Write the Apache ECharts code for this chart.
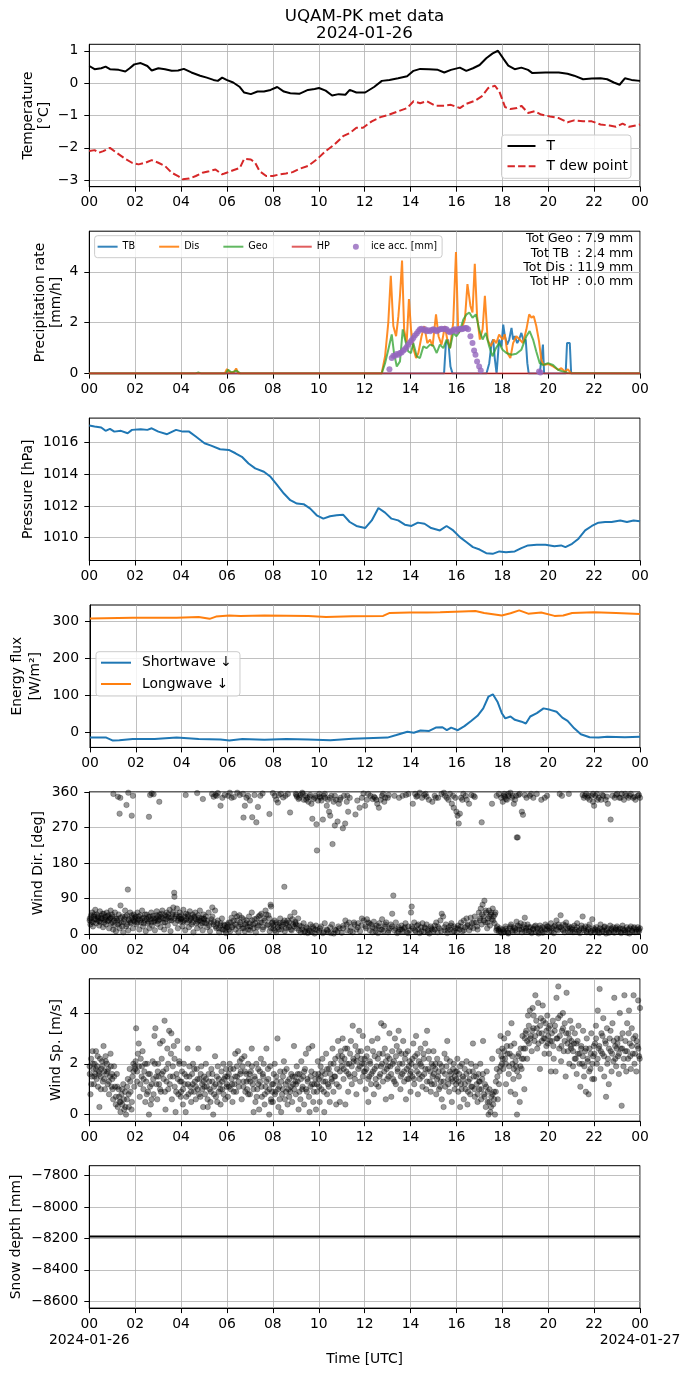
<!DOCTYPE html>
<html>
<head>
<meta charset="utf-8">
<script src="https://cdn.jsdelivr.net/npm/echarts@6/dist/echarts.min.js"></script>
<style>
  html, body { margin: 0; padding: 0; background: #fff; }
  #main { width: 690px; height: 1377px; }
</style>
</head>
<body>
<div id="main"></div>
<script>
// all x values are hours (UTC) of 2024-01-26
const titleLines = ['UQAM-PK met data', '2024-01-26']
const dayLabels = ['2024-01-26', '2024-01-27']

const tempAir = [[0,0.53],[0.23,0.43],[0.52,0.46],[0.71,0.51],[0.9,0.43],[1.28,0.41],[1.57,0.36],[1.76,0.46],[1.96,0.58],[2.24,0.62],[2.53,0.53],[2.72,0.39],[3.01,0.46],[3.3,0.43],[3.59,0.38],[3.87,0.39],[4.12,0.44],[4.45,0.33],[4.83,0.23],[5.12,0.17],[5.41,0.1],[5.6,0.07],[5.79,0.17],[5.98,0.1],[6.27,0.02],[6.56,-0.12],[6.75,-0.29],[7.04,-0.34],[7.33,-0.26],[7.61,-0.26],[7.9,-0.21],[8.19,-0.12],[8.48,-0.26],[8.76,-0.31],[9.15,-0.33],[9.53,-0.21],[9.82,-0.18],[10.01,-0.15],[10.3,-0.23],[10.58,-0.38],[10.87,-0.34],[11.16,-0.36],[11.35,-0.21],[11.64,-0.29],[12.02,-0.29],[12.41,-0.12],[12.75,0.07],[13.08,0.1],[13.46,0.15],[13.85,0.21],[14.13,0.38],[14.42,0.44],[14.8,0.43],[15.19,0.41],[15.47,0.33],[15.76,0.41],[16.15,0.48],[16.43,0.38],[16.72,0.46],[17.01,0.56],[17.3,0.77],[17.58,0.92],[17.81,1.0],[18.06,0.74],[18.26,0.54],[18.54,0.43],[18.83,0.48],[19.12,0.41],[19.31,0.31],[19.88,0.33],[20.46,0.33],[20.84,0.29],[21.13,0.23],[21.52,0.12],[21.9,0.14],[22.28,0.15],[22.57,0.12],[22.86,0.02],[23.11,-0.05],[23.34,0.15],[23.63,0.1],[24,0.07]]

const tempDew = [[0,-2.1],[0.23,-2.07],[0.42,-2.15],[0.61,-2.1],[0.9,-2.0],[1.19,-2.15],[1.57,-2.34],[1.86,-2.46],[2.15,-2.51],[2.44,-2.46],[2.72,-2.38],[3.01,-2.46],[3.3,-2.56],[3.59,-2.77],[3.87,-2.87],[4.07,-2.97],[4.35,-2.95],[4.64,-2.87],[4.93,-2.77],[5.22,-2.72],[5.5,-2.67],[5.79,-2.82],[5.98,-2.77],[6.27,-2.69],[6.56,-2.62],[6.75,-2.34],[7.04,-2.36],[7.23,-2.46],[7.42,-2.72],[7.71,-2.87],[8.0,-2.87],[8.28,-2.82],[8.57,-2.79],[8.86,-2.75],[9.15,-2.65],[9.53,-2.56],[9.91,-2.36],[10.3,-2.1],[10.68,-1.9],[11.06,-1.64],[11.35,-1.54],[11.64,-1.38],[11.93,-1.38],[12.31,-1.18],[12.69,-1.05],[13.08,-0.97],[13.46,-0.87],[13.85,-0.77],[14.13,-0.56],[14.42,-0.62],[14.71,-0.56],[15.09,-0.7],[15.47,-0.7],[15.76,-0.67],[16.15,-0.77],[16.43,-0.64],[16.82,-0.54],[17.1,-0.41],[17.39,-0.15],[17.68,-0.08],[17.87,-0.26],[18.12,-0.74],[18.35,-0.8],[18.64,-0.77],[18.83,-0.7],[19.12,-0.92],[19.41,-0.87],[19.69,-0.97],[20.08,-1.03],[20.46,-1.08],[20.84,-1.21],[21.13,-1.15],[21.52,-1.18],[21.9,-1.18],[22.28,-1.28],[22.67,-1.31],[22.95,-1.35],[23.24,-1.25],[23.53,-1.35],[24,-1.28]]

const precipTB = [[0,0],[15.46,0],[15.54,1.2],[15.64,1.34],[15.74,0.28],[15.83,0],[17.31,0],[17.43,0.41],[17.53,1.2],[17.6,1.34],[17.67,0.61],[17.75,0],[17.86,1.34],[17.96,1.07],[18.04,1.93],[18.11,1.47],[18.21,1.14],[18.3,1.34],[18.4,1.8],[18.47,1.34],[18.54,1.47],[18.65,1.2],[18.73,1.34],[18.83,1.6],[18.93,1.27],[19.02,1.34],[19.09,0.41],[19.15,0],[19.63,0],[19.7,0.54],[19.77,1.14],[19.82,0],[20.76,0],[20.82,1.2],[20.94,1.2],[21.0,0],[24,0]]

const precipDis = [[0,0],[5.9,0],[6.0,0.18],[6.1,0.05],[6.3,0.05],[6.4,0.2],[6.5,0],[12.74,0],[12.89,0.68],[13.03,2.0],[13.14,3.85],[13.25,1.87],[13.37,1.47],[13.47,2.26],[13.54,3.06],[13.63,4.45],[13.72,1.74],[13.83,1.2],[13.93,2.93],[14.02,1.74],[14.12,1.0],[14.24,0.61],[14.34,0.81],[14.48,1.47],[14.6,1.87],[14.73,1.2],[14.85,1.34],[14.96,1.07],[15.11,2.33],[15.22,1.47],[15.35,1.14],[15.5,1.87],[15.6,1.34],[15.72,1.0],[15.86,2.0],[15.98,4.78],[16.08,1.6],[16.22,1.74],[16.37,2.13],[16.48,3.52],[16.61,2.66],[16.7,2.4],[16.8,4.32],[16.9,2.26],[17.02,1.34],[17.14,1.74],[17.24,3.06],[17.36,1.34],[17.49,1.07],[17.63,1.34],[17.74,1.2],[17.86,1.54],[18.01,1.34],[18.11,1.54],[18.22,0.81],[18.35,0.61],[18.47,1.2],[18.61,1.47],[18.76,1.34],[18.9,1.2],[19.05,1.74],[19.17,2.33],[19.27,2.2],[19.37,2.26],[19.48,1.87],[19.6,1.27],[19.7,0.54],[19.8,0.34],[19.99,0.38],[20.21,0.28],[20.43,0.15],[20.57,0.21],[20.72,0.08],[20.86,0.17],[21.0,0.01],[24,0]]

const precipGeo = [[0,0],[4.6,0],[4.75,0.04],[4.9,0],[5.95,0],[6.05,0.15],[6.2,0.04],[6.4,0.12],[6.6,0],[12.74,0],[12.89,0.41],[13.03,0.94],[13.18,1.54],[13.28,0.81],[13.4,0.28],[13.54,0.48],[13.66,1.74],[13.76,1.34],[13.9,0.87],[14.02,0.81],[14.12,1.2],[14.27,0.68],[14.41,0.61],[14.56,1.07],[14.7,1.0],[14.85,1.14],[14.99,1.1],[15.14,0.81],[15.28,1.14],[15.43,1.0],[15.57,1.34],[15.72,1.0],[15.86,1.6],[16.0,1.47],[16.15,1.67],[16.3,2.13],[16.44,2.33],[16.56,2.4],[16.7,2.2],[16.85,2.33],[16.99,1.74],[17.14,1.34],[17.28,1.6],[17.43,1.07],[17.57,0.68],[17.72,1.0],[17.86,1.2],[18.01,0.94],[18.18,0.81],[18.4,0.74],[18.61,0.78],[18.83,0.94],[19.05,1.47],[19.19,1.67],[19.34,1.34],[19.48,0.87],[19.63,0.41],[19.77,0.34],[19.99,0.41],[20.21,0.34],[20.43,0.15],[20.64,0.08],[20.93,0.01],[24,0]]

const precipHP = [[0,0],[24,0]]

const iceAcc = [[13.08,0.17],[13.18,0.61],[13.25,0.7],[13.32,0.7],[13.4,0.77],[13.47,0.74],[13.54,0.81],[13.61,0.83],[13.69,0.91],[13.76,0.97],[13.83,1.05],[13.9,1.14],[13.98,1.23],[14.05,1.31],[14.12,1.4],[14.19,1.5],[14.27,1.58],[14.34,1.67],[14.41,1.74],[14.48,1.76],[14.56,1.71],[14.63,1.74],[14.7,1.67],[14.77,1.7],[14.85,1.67],[14.92,1.71],[14.99,1.74],[15.06,1.71],[15.14,1.67],[15.21,1.71],[15.28,1.74],[15.35,1.76],[15.43,1.74],[15.5,1.76],[15.57,1.74],[15.64,1.67],[15.72,1.63],[15.79,1.67],[15.86,1.71],[15.93,1.74],[16.0,1.67],[16.08,1.74],[16.15,1.76],[16.22,1.74],[16.3,1.76],[16.37,1.79],[16.44,1.79],[16.51,1.74],[16.61,1.47],[16.7,1.2],[16.77,0.91],[16.83,0.74],[16.9,0.48],[16.99,0.28],[17.06,0.12],[19.6,0.08],[19.66,0.04]]

const precipTotals = [['Geo', '7.9'], ['TB', '2.4'], ['Dis', '11.9'], ['HP', '0.0']]

const pressure = [[0,1017.05],[0.23,1016.99],[0.52,1016.93],[0.71,1016.72],[0.9,1016.84],[1.09,1016.67],[1.38,1016.72],[1.67,1016.57],[1.86,1016.78],[2.24,1016.82],[2.53,1016.78],[2.72,1016.88],[3.01,1016.67],[3.39,1016.51],[3.78,1016.78],[4.07,1016.67],[4.35,1016.67],[4.64,1016.36],[5.02,1015.94],[5.31,1015.79],[5.7,1015.56],[6.08,1015.52],[6.37,1015.31],[6.65,1015.09],[6.94,1014.67],[7.23,1014.36],[7.61,1014.15],[7.9,1013.83],[8.19,1013.31],[8.48,1012.78],[8.76,1012.36],[9.05,1012.15],[9.34,1012.11],[9.63,1011.83],[9.91,1011.41],[10.2,1011.2],[10.49,1011.35],[10.78,1011.41],[11.06,1011.45],[11.35,1010.99],[11.64,1010.74],[12.02,1010.61],[12.31,1011.09],[12.6,1011.87],[12.89,1011.58],[13.17,1011.2],[13.46,1011.09],[13.75,1010.82],[14.04,1010.74],[14.32,1010.95],[14.61,1010.88],[14.9,1010.61],[15.28,1010.46],[15.57,1010.74],[15.86,1010.46],[16.15,1010.04],[16.43,1009.73],[16.72,1009.41],[17.01,1009.26],[17.3,1009.03],[17.58,1008.99],[17.87,1009.14],[18.16,1009.09],[18.54,1009.14],[18.83,1009.35],[19.12,1009.52],[19.5,1009.56],[19.88,1009.56],[20.27,1009.47],[20.56,1009.52],[20.75,1009.41],[21.04,1009.62],[21.32,1009.94],[21.61,1010.46],[21.9,1010.74],[22.19,1010.95],[22.48,1010.99],[22.76,1010.99],[23.14,1011.09],[23.43,1010.99],[23.72,1011.09],[24,1011.03]]

const shortwave = [[0,-15],[0.71,-15],[1.0,-23],[1.28,-22],[1.86,-19],[2.82,-19],[3.78,-15],[4.74,-19],[5.7,-20],[6.08,-23],[6.65,-19],[7.61,-21],[8.57,-19],[9.53,-20],[10.49,-22],[11.45,-18],[12.98,-15],[13.37,-8],[13.85,1],[14.13,-2],[14.42,4],[14.8,3],[15.09,12],[15.38,13],[15.57,5],[15.76,12],[16.05,5],[16.34,16],[16.63,30],[16.91,44],[17.16,64],[17.39,96],[17.58,102],[17.78,82],[17.97,51],[18.12,37],[18.35,42],[18.54,33],[18.83,28],[19.02,23],[19.21,42],[19.5,51],[19.79,64],[20.08,60],[20.36,55],[20.61,39],[20.84,30],[21.13,10],[21.42,-6],[21.8,-14],[22.19,-15],[22.57,-13],[23.34,-14],[24,-13]]

const longwave = [[0,307],[1.86,309],[3.78,309],[4.74,311],[5.22,306],[5.5,312],[6.08,315],[6.56,314],[7.61,315],[9.53,314],[10.3,311],[11.45,313],[12.79,314],[13.08,322],[13.94,323],[14.71,323],[15.28,324],[16.24,326],[16.82,327],[17.2,322],[17.97,315],[18.35,321],[18.73,329],[19.12,320],[19.69,323],[20.27,314],[20.65,315],[21.04,322],[21.99,324],[22.95,322],[24,319]]

const windDir = [
[0.02,40],[0.05,25],[0.08,48],[0.1,32],[0.13,55],[0.16,20],[0.2,45],[0.23,38],[0.26,62],[0.3,28],[0.33,50],[0.36,35],[0.4,42],[0.43,22],[0.46,58],[0.5,30],[0.53,47],[0.56,40],[0.6,18],[0.63,52],[0.66,36],[0.7,44],[0.73,25],[0.76,55],[0.8,33],[0.83,48],[0.86,15],[0.9,40],[0.93,60],[0.96,28],
[1.0,45],[1.04,12],[1.08,35],[1.12,55],[1.16,8],[1.2,40],[1.24,25],[1.28,50],[1.32,15],[1.36,73],[1.4,30],[1.44,45],[1.48,5],[1.52,38],[1.56,60],[1.6,20],[1.64,48],[1.68,113],[1.7,10],[1.74,35],[1.78,55],[1.82,28],[1.86,42],[1.9,15],[1.94,50],[1.98,32],
[2.02,45],[2.06,25],[2.1,55],[2.14,38],[2.18,12],[2.22,48],[2.26,30],[2.3,60],[2.34,20],[2.38,42],[2.42,35],[2.46,8],[2.5,50],[2.54,28],[2.58,44],[2.62,15],[2.66,38],[2.7,55],[2.74,22],[2.78,47],[2.82,32],[2.86,10],[2.9,40],[2.94,58],[2.98,26],
[3.02,36],[3.06,50],[3.1,18],[3.14,44],[3.18,60],[3.22,30],[3.26,12],[3.3,48],[3.34,38],[3.38,55],[3.42,22],[3.46,42],[3.5,62],[3.54,8],[3.58,35],[3.62,50],[3.66,68],[3.7,105],[3.71,95],[3.74,28],[3.78,45],[3.82,65],[3.86,15],[3.9,40],[3.94,55],[3.98,32],
[4.02,48],[4.06,20],[4.1,62],[4.14,35],[4.18,10],[4.22,52],[4.26,30],[4.3,45],[4.34,18],[4.38,58],[4.42,38],[4.46,25],[4.5,50],[4.54,5],[4.58,42],[4.62,55],[4.66,28],[4.7,15],[4.74,48],[4.78,35],[4.82,60],[4.86,22],[4.9,40],[4.94,10],[4.98,50],
[5.02,30],[5.08,45],[5.14,18],[5.2,55],[5.26,8],[5.32,38],[5.36,68],[5.42,25],[5.48,60],[5.54,15],[5.6,35],[5.66,5],[5.72,28],[5.78,40],[5.84,12],[5.9,22],[5.96,3],
[6.02,18],[6.08,30],[6.14,8],[6.2,42],[6.26,22],[6.32,52],[6.38,12],[6.44,35],[6.5,5],[6.54,48],[6.6,25],[6.66,15],[6.72,38],[6.78,8],[6.84,28],[6.9,20],[6.96,45],
[7.02,10],[7.08,55],[7.14,25],[7.2,38],[7.26,5],[7.32,18],[7.38,45],[7.44,30],[7.5,52],[7.56,12],[7.62,40],[7.68,60],[7.74,22],[7.8,48],[7.86,8],[7.9,75],[7.92,70],[7.96,28],
[8.02,15],[8.08,35],[8.14,5],[8.2,25],[8.26,12],[8.32,40],[8.38,20],[8.44,30],[8.5,120],[8.52,8],[8.58,28],[8.64,35],[8.7,18],[8.76,45],[8.82,10],[8.88,25],[8.94,55],[8.98,32],
[9.04,15],[9.1,40],[9.16,22],[9.22,5],[9.28,12],[9.34,28],[9.4,8],[9.46,18],[9.52,3],[9.58,10],[9.64,25],[9.7,6],[9.76,15],[9.82,2],[9.88,22],[9.94,10],
[10.02,8],[10.1,20],[10.18,3],[10.26,28],[10.34,12],[10.42,5],[10.5,18],[10.58,25],[10.66,2],[10.74,10],[10.82,6],[10.9,15],
[11.0,4],[11.08,22],[11.16,35],[11.24,10],[11.32,30],[11.4,18],[11.48,5],[11.56,25],[11.64,12],[11.72,28],[11.8,8],[11.88,40],[11.96,35],
[12.04,20],[12.1,38],[12.16,30],[12.22,10],[12.28,25],[12.34,5],[12.4,32],[12.46,15],[12.52,22],[12.58,3],[12.64,28],[12.7,12],[12.76,38],[12.82,8],[12.88,20],[12.94,30],
[13.02,5],[13.08,15],[13.14,25],[13.2,52],[13.25,98],[13.3,10],[13.36,30],[13.42,3],[13.48,18],[13.54,12],[13.6,22],[13.66,8],[13.72,15],[13.78,28],[13.84,5],[13.9,20],[13.96,10],
[14.02,55],[14.05,70],[14.1,15],[14.16,30],[14.22,8],[14.28,22],[14.34,12],[14.4,3],[14.46,18],[14.52,28],[14.58,6],[14.64,15],[14.7,25],[14.76,10],[14.82,2],[14.88,20],[14.94,12],
[15.0,8],[15.06,22],[15.12,30],[15.18,5],[15.24,15],[15.3,35],[15.36,52],[15.42,45],[15.48,10],[15.54,25],[15.6,3],[15.66,18],[15.72,12],[15.78,28],[15.84,6],[15.9,20],[15.96,15],
[16.02,5],[16.08,22],[16.14,12],[16.2,30],[16.26,8],[16.32,35],[16.38,18],[16.44,40],[16.5,25],[16.56,10],[16.62,42],[16.68,28],[16.74,15],[16.8,45],[16.86,30],[16.92,12],[16.98,55],
[17.02,35],[17.06,65],[17.1,25],[17.14,75],[17.18,45],[17.22,85],[17.26,30],[17.3,55],[17.34,15],[17.38,40],[17.42,60],[17.46,22],[17.5,50],[17.54,38],[17.58,65],[17.62,45],[17.66,28],[17.7,55],[17.74,10],[17.78,20],[17.84,8],[17.9,15],[17.96,3],
[18.02,12],[18.08,5],[18.14,20],[18.2,8],[18.26,2],[18.32,15],[18.38,25],[18.44,6],[18.5,18],[18.56,10],[18.62,32],[18.68,22],[18.74,12],[18.8,28],[18.86,5],[18.92,18],[18.98,42],[18.99,8],
[19.04,15],[19.1,25],[19.16,8],[19.22,18],[19.28,3],[19.34,12],[19.4,20],[19.46,6],[19.52,15],[19.58,2],[19.64,22],[19.7,10],[19.76,18],[19.82,5],[19.88,25],[19.94,12],
[20.0,20],[20.06,8],[20.12,28],[20.18,15],[20.24,3],[20.3,22],[20.36,35],[20.42,10],[20.48,18],[20.54,48],[20.6,12],[20.66,25],[20.72,5],[20.78,30],[20.84,15],[20.9,20],[20.96,8],
[21.02,18],[21.08,5],[21.14,22],[21.2,12],[21.26,28],[21.32,8],[21.38,3],[21.44,15],[21.5,45],[21.56,10],[21.62,20],[21.68,5],[21.74,12],[21.8,25],[21.86,8],[21.92,38],[21.98,15],
[22.04,5],[22.1,18],[22.16,10],[22.22,3],[22.28,25],[22.34,12],[22.4,8],[22.46,20],[22.52,2],[22.58,15],[22.64,6],[22.7,22],[22.76,10],[22.82,18],[22.88,4],[22.94,12],
[23.0,20],[23.06,8],[23.12,15],[23.18,3],[23.24,22],[23.3,10],[23.36,5],[23.42,18],[23.48,12],[23.54,2],[23.6,20],[23.66,8],[23.72,15],[23.78,5],[23.84,12],[23.9,18],[23.96,8],[24.0,15],
[0.015,35],[0.085,42],[0.155,30],[0.225,50],[0.295,38],[0.365,45],[0.435,33],[0.505,40],[0.575,52],[0.645,30],[0.715,38],[0.785,46],[0.855,35],[0.925,42],[0.985,50],
[1.015,30],[1.085,22],[1.155,40],[1.225,35],[1.295,28],[1.365,42],[1.435,20],[1.505,32],[1.575,45],[1.645,25],[1.715,38],[1.785,30],[1.855,48],[1.925,35],[1.985,42],
[2.015,38],[2.085,30],[2.155,45],[2.225,35],[2.295,40],[2.365,28],[2.435,50],[2.505,38],[2.575,32],[2.645,45],[2.715,30],[2.785,40],[2.855,35],[2.925,48],[2.985,33],
[3.015,45],[3.085,38],[3.155,52],[3.225,40],[3.295,30],[3.365,45],[3.435,50],[3.505,35],[3.575,42],[3.645,55],[3.715,40],[3.785,50],[3.855,35],[3.925,45],[3.985,38],
[4.015,40],[4.085,32],[4.155,45],[4.225,38],[4.295,50],[4.365,35],[4.435,42],[4.505,30],[4.575,45],[4.645,38],[4.715,32],[4.785,42],[4.855,35],[4.925,28],[4.985,40],
[5.015,38],[5.085,28],[5.155,35],[5.225,22],[5.295,30],[5.365,45],[5.435,32],[5.505,20],[5.575,28],[5.645,15],[5.715,22],[5.785,12],[5.855,25],[5.925,10],[5.985,18],
[6.015,25],[6.085,12],[6.155,30],[6.225,18],[6.295,35],[6.365,25],[6.435,45],[6.505,20],[6.575,30],[6.645,42],[6.715,15],[6.785,25],[6.855,35],[6.925,12],[6.985,28],
[7.015,20],[7.085,35],[7.155,15],[7.225,28],[7.295,40],[7.365,22],[7.435,48],[7.505,30],[7.575,18],[7.645,35],[7.715,50],[7.785,25],[7.855,40],[7.925,15],[7.985,30],
[8.015,22],[8.085,10],[8.155,30],[8.225,18],[8.295,28],[8.365,12],[8.435,25],[8.505,35],[8.575,15],[8.645,22],[8.715,30],[8.785,12],[8.855,38],[8.925,20],[8.985,28],
[9.015,25],[9.135,10],[9.255,20],[9.375,5],[9.495,15],[9.615,8],[9.735,20],[9.855,12],[10.055,15],[10.215,6],[10.375,10],[10.535,3],[10.695,12],[10.855,20],
[11.055,15],[11.215,25],[11.375,8],[11.535,30],[11.695,18],[11.855,22],[12.055,15],[12.195,28],[12.335,18],[12.475,8],[12.615,20],[12.755,12],[12.895,25],
[13.055,10],[13.195,20],[13.335,15],[13.475,6],[13.615,12],[13.755,18],[13.895,3],[14.055,20],[14.195,10],[14.335,25],[14.475,8],[14.615,18],[14.755,5],[14.895,15],
[15.055,12],[15.195,20],[15.335,8],[15.475,18],[15.615,10],[15.755,22],[15.895,8],[16.055,15],[16.195,20],[16.335,10],[16.475,22],[16.615,18],[16.755,30],[16.895,20],
[17.035,40],[17.115,50],[17.195,35],[17.275,60],[17.355,30],[17.435,45],[17.515,55],[17.595,35],[17.675,50],[17.755,15],[17.835,12],[17.915,8],
[18.05,8],[18.15,14],[18.25,4],[18.35,20],[18.45,10],[18.55,15],[18.65,6],[18.75,20],[18.85,12],[18.95,25],
[19.05,10],[19.15,18],[19.25,6],[19.35,14],[19.45,22],[19.55,8],[19.65,15],[19.75,4],[19.85,12],[19.95,20],
[20.05,15],[20.15,8],[20.25,20],[20.35,12],[20.45,25],[20.55,18],[20.65,10],[20.75,22],[20.85,8],[20.95,15],
[21.05,12],[21.15,6],[21.25,18],[21.35,10],[21.45,22],[21.55,15],[21.65,8],[21.75,18],[21.85,4],[21.95,10],
[22.05,12],[22.15,6],[22.25,15],[22.35,8],[22.45,18],[22.55,10],[22.65,4],[22.75,14],[22.85,8],[22.95,16],
[23.05,12],[23.15,6],[23.25,14],[23.35,10],[23.45,4],[23.55,15],[23.65,10],[23.75,18],[23.85,6],[23.95,12],
[1.05,355],[1.25,348],[1.35,345],[1.32,305],[1.62,327],[1.7,358],[1.85,300],[1.9,350],[2.6,297],[2.65,352],[2.72,356],[2.8,354],[3.05,335],[4.2,352],[4.7,357],[4.95,342],[5.35,355],[5.42,348],[5.5,352],[5.6,357],[5.72,325],[5.8,345],[5.9,352],[6.05,350],[6.12,358],[6.2,345],[6.3,347],[6.45,358],[6.7,355],[6.72,295],[6.78,325],[6.85,345],[6.92,350],[7.0,338],[7.1,296],[7.2,352],[7.28,283],[7.35,322],[7.55,356],[7.85,304],
[8.0,357],[8.08,350],[8.15,340],[8.22,333],[8.35,355],[8.45,346],[8.55,350],[8.75,308],[9.0,355],[9.05,348],[9.12,342],[9.2,352],[9.28,358],[9.35,340],[9.42,350],[9.5,345],[9.55,335],[9.6,348],[9.68,330],[9.72,292],[9.78,342],[9.85,350],[9.9,278],[9.92,212],[9.97,338],
[10.02,355],[10.08,345],[10.12,338],[10.18,290],[10.22,350],[10.28,345],[10.35,325],[10.4,340],[10.45,310],[10.5,300],[10.55,350],[10.6,228],[10.65,335],[10.7,275],[10.75,340],[10.82,285],[10.88,330],[10.95,345],[11.05,268],[11.1,350],[11.15,280],[11.22,335],[11.28,310],[11.35,345],[11.6,303],[11.68,338],[11.78,320],[11.88,345],[11.95,356],
[12.02,325],[12.1,340],[12.25,350],[12.35,342],[12.45,345],[12.55,330],[12.62,320],[12.7,340],[12.8,355],[12.9,345],[13.05,352],[13.3,350],[13.5,345],[13.65,350],[13.8,352],[14.1,330],[14.2,355],[14.3,350],[14.4,358],[14.5,345],[14.6,352],[14.7,348],[14.8,340],[14.95,335],[15.05,350],[15.2,345],[15.35,355],[15.5,350],[15.58,345],[15.65,340],[15.72,355],[15.8,330],[15.88,320],[15.95,345],
[16.0,310],[16.05,300],[16.1,280],[16.15,305],[16.2,345],[16.3,355],[16.45,340],[16.55,330],[16.65,352],[16.75,350],[16.8,347],[17.1,283],[17.55,330],[17.75,350],[17.85,355],[17.95,345],[18.02,335],[18.08,355],[18.12,348],[18.2,340],[18.28,350],[18.35,358],[18.42,345],[18.5,330],[18.6,350],[18.63,245],[18.67,245],[18.75,355],[18.85,310],[18.9,302],[18.98,352],
[19.2,350],[19.35,345],[19.5,355],[19.7,340],[19.85,345],[19.95,350],[20.5,355],[20.6,350],[20.9,355],[21.5,352],[21.6,350],[21.65,355],[21.72,345],[21.8,340],[21.88,350],[21.95,335],[22.0,325],[22.05,350],[22.12,355],[22.2,345],[22.3,340],[22.4,350],[22.5,340],[22.6,330],[22.72,290],[22.8,350],[22.9,345],[23.0,355],[23.1,345],[23.2,355],[23.3,340],[23.4,350],[23.5,345],[23.6,355],[23.7,345],[23.8,340],[23.9,350],[24.0,345],
[9.025,352],[9.155,345],[9.305,355],[9.455,340],[9.625,352],[9.835,345],[10.045,348],[10.265,355],[10.485,345],[10.705,350],[10.925,340],[11.245,350],[12.155,355],[12.405,348],[12.505,340],[12.755,350],[12.855,335],[13.005,345],[13.905,355],[14.255,348],[14.655,355],[15.105,345],[15.455,358],[15.855,350],[16.255,340],[16.405,350],
[18.055,350],[18.155,342],[18.255,355],[18.455,350],[18.555,340],[18.705,352],[19.055,345],[19.255,355],[21.555,345],[21.755,350],[21.955,355],[22.155,340],[22.355,352],[22.555,348],[22.955,352],[23.155,345],[23.355,355],[23.555,350],[23.755,348],[23.955,352],[5.555,350],[6.555,352],[7.455,350],[8.255,352],[8.655,355]
]

const windSpeed = [
[0.02,1.6],[0.05,0.8],[0.08,2.2],[0.11,1.5],[0.14,2.5],[0.17,1.8],[0.2,1.2],[0.23,2.0],[0.26,1.6],[0.29,2.5],[0.32,1.4],[0.35,1.9],[0.38,1.1],[0.41,1.7],[0.44,0.3],[0.47,2.2],[0.5,1.5],[0.53,1.8],[0.56,2.1],[0.59,1.3],[0.62,2.7],[0.65,1.7],[0.68,1.0],[0.71,2.3],[0.74,1.6],[0.77,2.0],[0.8,1.2],[0.83,1.8],[0.86,0.8],[0.9,1.5],[0.94,1.9],[0.97,1.1],
[1.0,1.4],[1.04,0.6],[1.08,1.9],[1.12,1.1],[1.16,0.7],[1.2,1.6],[1.24,0.3],[1.28,1.0],[1.32,0.5],[1.36,0.1],[1.4,0.8],[1.44,0.4],[1.48,1.2],[1.52,0.2],[1.56,0.9],[1.6,0.0],[1.64,0.6],[1.68,1.4],[1.72,0.3],[1.76,1.8],[1.8,0.9],[1.84,0.2],[1.88,1.5],[1.92,2.0],[1.96,1.1],
[2.0,1.8],[2.04,3.4],[2.08,1.3],[2.12,2.4],[2.16,1.9],[2.2,0.7],[2.24,2.2],[2.28,1.5],[2.32,2.5],[2.36,1.0],[2.4,1.7],[2.44,0.5],[2.48,1.3],[2.52,2.0],[2.56,0.9],[2.6,0.0],[2.64,1.6],[2.68,0.4],[2.72,1.2],[2.76,2.1],[2.8,0.8],[2.84,3.1],[2.88,3.4],[2.92,1.5],[2.96,0.6],
[3.0,2.0],[3.04,1.2],[3.08,2.8],[3.12,0.9],[3.16,1.6],[3.2,2.9],[3.24,1.4],[3.28,3.7],[3.32,0.2],[3.36,1.8],[3.4,2.6],[3.44,1.0],[3.48,3.3],[3.52,1.5],[3.56,2.4],[3.6,0.6],[3.64,1.9],[3.68,2.7],[3.72,1.1],[3.76,0.1],[3.8,1.6],[3.84,2.9],[3.88,0.8],[3.92,2.0],[3.96,1.3],
[4.0,0.9],[4.04,1.7],[4.08,0.4],[4.12,2.0],[4.16,1.2],[4.2,0.1],[4.24,1.5],[4.28,2.6],[4.32,0.8],[4.36,1.9],[4.4,1.1],[4.44,0.5],[4.48,1.6],[4.52,2.0],[4.56,0.9],[4.6,1.3],[4.64,0.6],[4.68,1.8],[4.72,1.0],[4.76,2.6],[4.8,1.4],[4.84,0.7],[4.88,1.9],[4.92,1.2],[4.96,0.3],
[5.0,1.5],[5.04,0.8],[5.08,2.0],[5.12,1.1],[5.16,0.3],[5.2,1.6],[5.24,1.0],[5.28,0.5],[5.32,1.8],[5.36,1.3],[5.4,0.0],[5.44,1.1],[5.48,2.3],[5.52,0.7],[5.56,1.5],[5.6,1.9],[5.64,0.9],[5.68,1.2],[5.72,0.4],[5.76,1.7],[5.8,1.0],[5.84,2.0],[5.88,1.4],[5.92,0.6],[5.96,1.8],
[6.0,1.2],[6.04,0.7],[6.08,1.6],[6.12,2.0],[6.16,1.0],[6.2,1.4],[6.24,0.5],[6.28,1.8],[6.32,1.2],[6.36,2.4],[6.4,0.9],[6.44,1.5],[6.48,2.5],[6.52,1.1],[6.56,2.1],[6.6,1.7],[6.64,0.6],[6.68,1.9],[6.72,1.3],[6.76,2.3],[6.8,0.9],[6.84,1.6],[6.88,1.0],[6.92,2.0],[6.96,1.4],
[7.0,0.8],[7.04,1.7],[7.08,2.6],[7.12,1.2],[7.16,0.1],[7.2,1.5],[7.24,0.5],[7.28,2.0],[7.32,1.0],[7.36,1.8],[7.4,0.2],[7.44,1.3],[7.48,2.2],[7.52,0.7],[7.56,1.6],[7.6,2.0],[7.64,0.4],[7.68,1.1],[7.72,2.6],[7.76,0.9],[7.8,1.4],[7.84,0.0],[7.88,1.9],[7.92,0.6],[7.96,1.2],
[8.0,0.5],[8.04,1.6],[8.08,2.0],[8.12,0.9],[8.16,1.3],[8.2,3.0],[8.24,0.3],[8.28,1.1],[8.32,1.7],[8.36,0.1],[8.4,0.8],[8.44,1.5],[8.48,2.1],[8.52,0.6],[8.56,1.2],[8.6,1.8],[8.64,0.4],[8.68,1.0],[8.72,1.4],[8.76,0.9],[8.8,1.6],[8.84,0.5],[8.88,1.2],[8.92,2.7],[8.96,1.5],
[9.0,0.8],[9.04,1.9],[9.08,1.3],[9.12,0.2],[9.16,1.6],[9.2,0.6],[9.24,2.1],[9.28,1.0],[9.32,1.5],[9.36,0.4],[9.4,1.8],[9.44,2.4],[9.48,0.9],[9.52,1.3],[9.56,2.6],[9.6,0.1],[9.64,1.1],[9.68,1.7],[9.72,2.7],[9.76,0.5],[9.8,1.2],[9.84,1.6],[9.88,0.2],[9.92,0.9],[9.96,2.1],
[10.0,1.4],[10.04,0.5],[10.08,1.9],[10.12,1.0],[10.16,2.2],[10.2,1.3],[10.24,0.1],[10.28,1.6],[10.32,2.4],[10.36,0.8],[10.4,1.2],[10.44,1.8],[10.48,0.5],[10.52,2.0],[10.56,1.4],[10.6,2.6],[10.64,0.9],[10.68,1.5],[10.72,2.2],[10.76,0.4],[10.8,1.8],[10.84,2.9],[10.88,1.1],[10.92,0.5],[10.96,2.5],
[11.0,1.9],[11.04,3.0],[11.08,1.4],[11.12,2.2],[11.16,0.4],[11.2,1.7],[11.24,2.6],[11.28,0.9],[11.32,2.0],[11.36,1.5],[11.4,2.9],[11.44,1.2],[11.48,3.5],[11.52,2.1],[11.56,1.6],[11.6,2.7],[11.64,0.8],[11.68,2.3],[11.72,1.8],[11.76,3.3],[11.8,1.3],[11.84,2.5],[11.88,2.0],[11.92,3.1],[11.96,1.7],
[12.0,2.2],[12.04,1.0],[12.08,1.8],[12.12,2.6],[12.16,0.5],[12.2,1.5],[12.24,2.0],[12.28,1.2],[12.32,2.9],[12.36,1.7],[12.4,0.8],[12.44,2.3],[12.48,1.4],[12.52,1.9],[12.56,3.0],[12.6,1.1],[12.64,2.4],[12.68,1.6],[12.72,3.6],[12.76,2.0],[12.8,1.3],[12.84,3.5],[12.88,2.6],[12.92,0.6],[12.96,1.8],
[13.0,2.3],[13.04,1.5],[13.08,3.2],[13.12,1.9],[13.16,0.7],[13.2,2.5],[13.24,1.4],[13.28,2.1],[13.32,3.0],[13.36,1.2],[13.4,2.7],[13.44,1.7],[13.48,3.3],[13.52,2.0],[13.56,1.0],[13.6,2.4],[13.64,1.6],[13.68,2.9],[13.72,1.3],[13.76,2.2],[13.8,0.6],[13.84,1.8],[13.88,2.5],[13.92,1.4],[13.96,2.1],
[14.0,0.9],[14.04,2.0],[14.08,1.5],[14.12,2.8],[14.16,1.2],[14.2,2.3],[14.24,3.1],[14.28,1.7],[14.32,0.8],[14.36,2.1],[14.4,1.4],[14.44,2.6],[14.48,1.9],[14.52,1.1],[14.56,2.4],[14.6,1.6],[14.64,2.8],[14.68,1.0],[14.72,3.3],[14.76,1.8],[14.8,2.2],[14.84,1.3],[14.88,0.9],[14.92,2.0],[14.96,1.5],
[15.0,2.5],[15.04,1.2],[15.08,1.8],[15.12,0.8],[15.16,2.2],[15.2,1.5],[15.24,1.0],[15.28,2.0],[15.32,1.3],[15.36,0.6],[15.4,1.7],[15.44,0.3],[15.48,2.4],[15.52,1.1],[15.56,1.9],[15.6,2.9],[15.64,1.4],[15.68,0.9],[15.72,2.1],[15.76,1.6],[15.8,0.5],[15.84,1.3],[15.88,2.0],[15.92,1.0],[15.96,1.7],
[16.0,1.4],[16.04,2.2],[16.08,0.9],[16.12,1.6],[16.16,0.3],[16.2,1.2],[16.24,2.0],[16.28,1.5],[16.32,0.6],[16.36,1.8],[16.4,1.0],[16.44,2.1],[16.48,0.4],[16.52,1.3],[16.56,1.7],[16.6,0.8],[16.64,2.0],[16.68,1.1],[16.72,2.8],[16.76,1.5],[16.8,0.7],[16.84,1.9],[16.88,1.2],[16.92,0.5],[16.96,1.6],
[17.0,1.0],[17.04,2.0],[17.08,0.6],[17.12,1.4],[17.16,2.9],[17.2,0.8],[17.24,1.2],[17.28,0.3],[17.32,1.7],[17.36,0.5],[17.4,0.0],[17.44,1.0],[17.48,0.1],[17.52,0.7],[17.56,2.2],[17.6,0.4],[17.64,0.9],[17.68,0.0],[17.72,1.3],[17.76,1.8],[17.8,0.6],[17.84,2.5],[17.88,1.7],[17.92,3.1],[17.96,2.3],
[18.0,2.6],[18.04,1.8],[18.08,3.0],[18.12,2.2],[18.16,1.2],[18.2,2.7],[18.24,3.2],[18.28,1.6],[18.32,2.4],[18.36,0.9],[18.4,3.6],[18.44,2.0],[18.48,1.4],[18.52,2.8],[18.56,0.8],[18.6,1.9],[18.64,0.0],[18.68,2.3],[18.72,1.5],[18.76,0.5],[18.8,2.6],[18.84,1.8],[18.88,3.1],[18.92,2.2],[18.96,1.0],
[19.0,2.6],[19.04,3.3],[19.08,2.2],[19.12,3.9],[19.16,2.8],[19.2,4.1],[19.24,3.1],[19.28,2.5],[19.32,4.2],[19.36,3.4],[19.4,2.9],[19.44,4.7],[19.48,3.7],[19.52,2.6],[19.56,4.4],[19.6,3.2],[19.64,1.8],[19.68,3.8],[19.72,2.9],[19.76,4.3],[19.8,3.0],[19.84,2.4],[19.88,3.6],[19.92,2.7],[19.96,3.9],
[20.0,3.1],[20.04,2.4],[20.08,3.5],[20.12,1.7],[20.16,2.9],[20.2,3.7],[20.24,2.2],[20.28,3.3],[20.32,1.7],[20.36,4.6],[20.4,3.0],[20.44,5.05],[20.48,2.6],[20.52,3.9],[20.56,2.1],[20.6,3.3],[20.64,4.0],[20.68,2.5],[20.72,3.6],[20.76,1.5],[20.8,4.8],[20.84,2.8],[20.88,3.2],[20.92,2.0],[20.96,3.7],
[21.0,2.6],[21.04,3.4],[21.08,1.9],[21.12,2.8],[21.16,3.2],[21.2,2.2],[21.24,1.6],[21.28,2.9],[21.32,3.5],[21.36,2.4],[21.4,1.1],[21.44,2.7],[21.48,2.0],[21.52,3.3],[21.56,1.5],[21.6,2.5],[21.64,0.9],[21.68,3.0],[21.72,2.1],[21.76,0.8],[21.8,2.6],[21.84,1.8],[21.88,3.2],[21.92,1.4],[21.96,2.3],
[22.0,1.4],[22.04,2.8],[22.08,3.5],[22.12,2.0],[22.16,4.1],[22.2,2.6],[22.24,4.95],[22.28,1.8],[22.32,3.2],[22.36,2.4],[22.4,3.8],[22.44,1.5],[22.48,2.9],[22.52,0.7],[22.56,3.4],[22.6,2.2],[22.64,1.2],[22.68,3.0],[22.72,2.5],[22.76,1.7],[22.8,3.6],[22.84,2.1],[22.88,4.6],[22.92,2.7],[22.96,1.9],
[23.0,3.0],[23.04,2.3],[23.08,1.6],[23.12,4.0],[23.16,2.6],[23.2,0.35],[23.24,3.2],[23.28,1.9],[23.32,4.7],[23.36,2.5],[23.4,1.7],[23.44,3.6],[23.48,2.2],[23.52,4.1],[23.56,2.8],[23.6,1.8],[23.64,3.4],[23.68,2.4],[23.72,4.7],[23.76,2.0],[23.8,3.1],[23.84,1.7],[23.88,2.7],[23.92,4.5],[23.96,2.3],[24.0,4.2],
[0.015,1.9],[0.085,1.2],[0.155,2.0],[0.225,1.5],[0.295,1.8],[0.365,2.3],[0.435,1.6],[0.505,1.0],[0.575,1.9],[0.645,1.4],[0.715,2.1],[0.785,1.7],[0.855,1.3],[0.925,2.4],[0.985,1.6],
[1.015,1.0],[1.085,1.5],[1.155,0.4],[1.225,1.1],[1.295,0.7],[1.365,0.5],[1.435,1.0],[1.505,0.6],[1.575,0.3],[1.645,1.1],[1.715,0.8],[1.785,1.3],[1.855,0.5],[1.925,1.7],[1.985,1.9],
[2.015,2.1],[2.085,1.7],[2.155,2.8],[2.225,1.2],[2.295,1.9],[2.365,1.4],[2.435,2.0],[2.505,0.8],[2.575,1.6],[2.645,1.1],[2.715,0.6],[2.785,1.4],[2.855,2.0],[2.925,1.2],[2.985,1.7],
[3.015,1.5],[3.085,1.0],[3.155,2.2],[3.225,1.7],[3.295,0.9],[3.365,1.3],[3.435,2.0],[3.505,1.2],[3.575,3.2],[3.645,1.5],[3.715,2.2],[3.785,0.9],[3.855,1.4],[3.925,2.1],[3.985,0.7],
[4.015,1.3],[4.085,1.0],[4.155,1.6],[4.225,0.7],[4.295,1.2],[4.365,1.5],[4.435,0.9],[4.505,1.2],[4.575,1.8],[4.645,1.1],[4.715,1.4],[4.785,0.8],[4.855,1.6],[4.925,1.0],[4.985,1.3],
[5.015,1.1],[5.085,1.4],[5.155,0.6],[5.225,1.3],[5.295,0.9],[5.365,1.6],[5.435,0.8],[5.505,1.2],[5.575,0.5],[5.645,1.4],[5.715,1.0],[5.785,1.3],[5.855,0.8],[5.925,1.5],[5.985,1.1],
[6.015,1.5],[6.085,1.1],[6.155,1.8],[6.225,1.2],[6.295,0.9],[6.365,1.5],[6.435,1.9],[6.505,1.3],[6.575,1.6],[6.645,2.2],[6.715,1.1],[6.785,1.7],[6.855,1.3],[6.925,0.8],[6.985,1.6],
[7.015,1.3],[7.085,1.9],[7.155,1.0],[7.225,1.4],[7.295,0.7],[7.365,1.2],[7.435,1.7],[7.505,1.1],[7.575,1.5],[7.645,0.8],[7.715,1.3],[7.785,1.8],[7.855,1.0],[7.925,0.5],[7.985,0.9],
[8.015,1.2],[8.085,0.8],[8.155,1.5],[8.225,1.0],[8.295,0.6],[8.365,1.3],[8.435,1.0],[8.505,1.7],[8.575,0.9],[8.645,1.3],[8.715,0.7],[8.785,1.1],[8.855,1.5],[8.925,1.0],[8.985,1.3],
[9.015,1.2],[9.085,1.6],[9.155,0.9],[9.225,1.4],[9.295,1.1],[9.365,1.7],[9.435,1.0],[9.505,1.4],[9.575,0.7],[9.645,1.5],[9.715,1.2],[9.785,0.9],[9.855,1.4],[9.925,1.2],[9.985,1.6],
[10.015,1.1],[10.085,1.5],[10.155,1.7],[10.225,0.9],[10.295,1.3],[10.365,1.8],[10.435,1.1],[10.505,1.6],[10.575,1.3],[10.645,2.0],[10.715,1.5],[10.785,1.2],[10.855,2.3],[10.925,1.7],[10.985,2.1],
[11.015,2.3],[11.085,1.8],[11.155,2.6],[11.225,2.0],[11.295,1.6],[11.365,2.4],[11.435,1.9],[11.505,2.2],[11.575,1.4],[11.645,2.1],[11.715,2.5],[11.785,1.9],[11.855,2.2],[11.925,1.5],[11.985,2.0],
[12.015,1.7],[12.085,2.3],[12.155,1.4],[12.225,2.1],[12.295,1.6],[12.365,2.5],[12.435,1.8],[12.505,1.2],[12.575,2.2],[12.645,1.5],[12.715,1.9],[12.785,2.4],[12.855,1.7],[12.925,2.1],[12.985,1.4],
[13.015,1.9],[13.085,2.2],[13.155,1.6],[13.225,2.0],[13.295,1.3],[13.365,2.3],[13.435,1.8],[13.505,2.5],[13.575,1.5],[13.645,2.0],[13.715,1.7],[13.785,2.4],[13.855,1.4],[13.925,1.9],[13.985,1.6],
[14.015,1.7],[14.085,2.2],[14.155,1.4],[14.225,1.9],[14.295,2.4],[14.365,1.6],[14.435,2.0],[14.505,1.5],[14.575,2.2],[14.645,1.8],[14.715,1.3],[14.785,2.5],[14.855,1.7],[14.925,1.2],[14.985,1.9],
[15.015,1.6],[15.085,2.0],[15.155,1.4],[15.225,1.7],[15.295,1.1],[15.365,1.9],[15.435,1.3],[15.505,1.6],[15.575,2.2],[15.645,1.2],[15.715,1.7],[15.785,1.4],[15.855,1.8],[15.925,1.5],[15.985,1.2],
[16.015,1.7],[16.085,1.3],[16.155,1.9],[16.225,1.0],[16.295,1.4],[16.365,1.2],[16.435,1.6],[16.505,0.9],[16.575,1.4],[16.645,1.1],[16.715,1.7],[16.785,1.0],[16.855,1.5],[16.925,0.8],[16.985,1.3],
[17.015,1.3],[17.085,1.0],[17.155,1.6],[17.225,0.7],[17.295,1.1],[17.365,0.9],[17.435,0.5],[17.505,0.3],[17.575,0.8],[17.645,0.6],[17.715,0.9],[17.785,1.5],[17.855,1.2],[17.925,1.9],[17.985,2.0],
[18.015,2.2],[18.085,2.5],[18.155,2.0],[18.225,2.4],[18.295,1.9],[18.365,2.7],[18.435,2.3],[18.505,1.8],[18.575,2.1],[18.645,1.7],[18.715,2.4],[18.785,1.9],[18.855,2.2],[18.925,2.6],[18.985,3.0],
[19.015,3.2],[19.085,2.9],[19.155,3.5],[19.225,3.0],[19.295,3.3],[19.365,3.9],[19.435,3.1],[19.505,3.4],[19.575,2.8],[19.645,3.5],[19.715,3.2],[19.785,3.7],[19.855,3.0],[19.925,3.3],[19.985,2.8],
[20.015,3.4],[20.085,2.9],[20.155,3.2],[20.225,2.7],[20.295,3.5],[20.365,3.0],[20.435,3.8],[20.505,3.1],[20.575,2.7],[20.645,3.4],[20.715,2.9],[20.785,3.2],[20.855,2.5],[20.925,3.0],[20.985,2.7],
[21.015,2.9],[21.085,2.5],[21.155,2.2],[21.225,2.8],[21.295,2.4],[21.365,2.0],[21.435,2.6],[21.505,2.3],[21.575,1.9],[21.645,2.6],[21.715,2.2],[21.785,1.7],[21.855,2.4],[21.925,2.0],[21.985,2.7],
[22.015,2.4],[22.085,3.0],[22.155,2.2],[22.225,2.7],[22.295,2.5],[22.365,3.1],[22.435,2.3],[22.505,2.8],[22.575,2.0],[22.645,2.6],[22.715,3.3],[22.785,2.4],[22.855,2.9],[22.925,2.2],[22.985,2.6],
[23.015,2.8],[23.085,2.4],[23.155,3.0],[23.225,2.6],[23.295,2.2],[23.365,2.9],[23.435,2.5],[23.505,3.2],[23.575,2.3],[23.645,2.7],[23.715,3.0],[23.785,2.4],[23.855,2.9],[23.925,2.6],[23.985,2.2]
]

const snowDepth = [[0,-8187],[24,-8187]]

// y tick values per panel
const tempTicks = [-3, -2, -1, 0, 1]
const precipTicks = [0, 2, 4]
const pressureTicks = [1010, 1012, 1014, 1016]
const fluxTicks = [0, 100, 200, 300]
const dirTicks = [0, 90, 180, 270, 360]
const speedTicks = [0, 2, 4]
const snowTicks = [-8600, -8400, -8200, -8000, -7800]
const dayTicks = [0, 24]

const FONT = 'DejaVu Sans'
const GRID_COLOR = '#b0b0b0'
const panelTop = [44.3, 231.2, 418.1, 605, 791.9, 978.8, 1165.7]
const panelHeight = 142.4

const minus = (v) => String(v).replace('-', '\u2212')
const pad2 = (v) => String(v % 24).padStart(2, '0')

const ySpecs = [
    { min: -3.2, max: 1.2, ticks: tempTicks, name: 'Temperature\n[°C]', gap: 36.5, lh: 16, split: 5 },
    { min: 0, max: 5.6, ticks: precipTicks, name: 'Precipitation rate\n[mm/h]', gap: 25, lh: 16, split: 3 },
    { min: 1008.57, max: 1017.52, ticks: pressureTicks, name: 'Pressure [hPa]', gap: 53, lh: 16, split: 5 },
    { min: -41.5, max: 343.4, ticks: fluxTicks, name: 'Energy flux\n[W/m²]', gap: 46, lh: 18, split: 5 },
    { min: 0, max: 360, ticks: dirTicks, name: 'Wind Dir. [deg]', gap: 43, lh: 16, split: 4 },
    { min: -0.26, max: 5.35, ticks: speedTicks, name: 'Wind Sp. [m/s]', gap: 24.5, lh: 16, split: 3 },
    { min: -8644, max: -7736, ticks: snowTicks, name: 'Snow depth [mm]', gap: 64.5, lh: 16, split: 5 },
]

const grids = panelTop.map((top) => ({
    left: 89.3,
    width: 550.7,
    top: top,
    height: panelHeight,
    show: true,
    borderColor: '#000',
    borderWidth: 1,
    backgroundColor: 'transparent',
}))

const labelFont = { color: '#000', fontFamily: FONT, fontSize: 13.9 }

const xAxes = panelTop.map((_, i) => ({
    type: 'value',
    gridIndex: i,
    min: 0,
    max: 24,
    interval: 2,
    axisLine: { onZero: false, lineStyle: { color: '#000', width: 1 } },
    axisTick: { length: 5, lineStyle: { color: '#000', width: 1 } },
    axisLabel: Object.assign({ margin: 9, showMinLabel: true, showMaxLabel: true, formatter: pad2 }, labelFont),
    splitLine: { show: true, lineStyle: { color: GRID_COLOR, width: 0.8 } },
    name: i === 6 ? 'Time [UTC]' : '',
    nameLocation: 'middle',
    nameGap: 43,
    nameMoveOverlap: false,
    nameTextStyle: Object.assign({ lineHeight: 16 }, labelFont),
}))
// second bottom axis on the last panel: only the day labels under 00
xAxes.push({
    type: 'value',
    gridIndex: 6,
    position: 'bottom',
    min: 0,
    max: 24,
    axisLine: { show: false },
    axisTick: { show: false },
    splitLine: { show: false },
    axisLabel: Object.assign({
        margin: 25.5,
        customValues: dayTicks,
        showMinLabel: true,
        showMaxLabel: true,
        formatter: (v) => dayLabels[v === 0 ? 0 : 1],
    }, labelFont),
})

const yAxes = ySpecs.map((s, i) => ({
    type: 'value',
    gridIndex: i,
    min: s.min,
    max: s.max,
    splitNumber: s.split,
    axisLine: { show: true, onZero: false, lineStyle: { color: '#000', width: 1 } },
    axisTick: { show: true, length: 5, customValues: s.ticks, lineStyle: { color: '#000', width: 1 } },
    axisLabel: Object.assign({ customValues: s.ticks, margin: 11, formatter: (v) => minus(v) }, labelFont),
    splitLine: { show: true, lineStyle: { color: GRID_COLOR, width: 0.8 } },
    name: s.name,
    nameLocation: 'middle',
    nameRotate: 90,
    nameGap: s.gap,
    nameMoveOverlap: false,
    nameTextStyle: Object.assign({ lineHeight: s.lh }, labelFont),
}))

const lineSeries = (name, idx, data, color, width, extra) => Object.assign({
    name: name,
    type: 'line',
    xAxisIndex: idx,
    yAxisIndex: idx,
    data: data,
    symbol: 'none',
    color: color,
    lineStyle: { color: color, width: width },
    animation: false,
}, extra || {})

const scatterSeries = (name, idx, data) => ({
    name: name,
    type: 'scatter',
    xAxisIndex: idx,
    yAxisIndex: idx,
    data: data,
    symbolSize: 5.5,
    itemStyle: { color: 'rgba(0,0,0,0.5)', borderColor: 'rgba(0,0,0,0.5)', borderWidth: 0.6 },
    animation: false,
})

const legendBase = {
    backgroundColor: 'rgba(255,255,255,0.8)',
    borderColor: '#cccccc',
    borderWidth: 1,
    borderRadius: 3,
    selectedMode: false,
}
const noDot = { opacity: 0 }

const option = {
    animation: false,
    backgroundColor: '#fff',
    grid: grids,
    xAxis: xAxes,
    yAxis: yAxes,
    legend: [
        Object.assign({}, legendBase, {
            data: ['T', 'T dew point'],
            orient: 'vertical',
            left: 501.5,
            top: 135,
            padding: [4, 3, 5, 5],
            itemWidth: 28,
            itemHeight: 14,
            itemGap: 6.3,
            itemStyle: noDot,
            textStyle: Object.assign({ padding: [0, 0, 0, 6] }, labelFont),
        }),
        Object.assign({}, legendBase, {
            data: [
                { name: 'TB', itemStyle: noDot },
                { name: 'Dis', itemStyle: noDot },
                { name: 'Geo', itemStyle: noDot },
                { name: 'HP', itemStyle: noDot },
                { name: 'ice acc. [mm]', icon: 'circle' },
            ],
            orient: 'horizontal',
            left: 94.6,
            top: 235.7,
            padding: [6, 5, 6, 2],
            itemWidth: 20,
            itemHeight: 6,
            itemGap: 23,
            textStyle: { color: '#000', fontFamily: FONT, fontSize: 9.7 },
        }),
        Object.assign({}, legendBase, {
            data: ['Shortwave ↓', 'Longwave ↓'],
            orient: 'vertical',
            left: 96,
            top: 651.7,
            padding: [4, 8, 5, 4],
            itemWidth: 30,
            itemHeight: 14,
            itemGap: 7.3,
            itemStyle: noDot,
            textStyle: Object.assign({ padding: [0, 0, 0, 6] }, labelFont),
        }),
    ],
    graphic: [
        {
            type: 'text',
            x: 364.5,
            y: 8,
            style: {
                text: titleLines.join('\n'),
                fill: '#000',
                fontFamily: FONT,
                fontSize: 16.7,
                lineHeight: 17,
                align: 'center',
                verticalAlign: 'top',
                textAlign: 'center',
                textVerticalAlign: 'top',
            },
        },
        {
            type: 'text',
            x: 633.3,
            y: 231.9,
            z: 10,
            style: {
                text: precipTotals.map(([k, v]) => 'Tot ' + k.padEnd(3, ' ') + ' : ' + v + ' mm').join('\n'),
                fill: '#000',
                fontFamily: FONT,
                fontSize: 12.5,
                lineHeight: 14.3,
                align: 'right',
                verticalAlign: 'top',
                textAlign: 'right',
                textVerticalAlign: 'top',
            },
        },
    ],
    series: [
        lineSeries('T', 0, tempAir, '#000000', 2),
        lineSeries('T dew point', 0, tempDew, '#d62728', 2, { lineStyle: { color: '#d62728', width: 2, type: [7.4, 3.2] } }),
        lineSeries('TB', 1, precipTB, 'rgba(31,119,180,0.9)', 2),
        lineSeries('Dis', 1, precipDis, 'rgba(255,127,14,0.9)', 2),
        lineSeries('Geo', 1, precipGeo, 'rgba(44,160,44,0.75)', 2),
        lineSeries('HP', 1, precipHP, 'rgba(214,39,40,0.75)', 2),
        {
            name: 'ice acc. [mm]',
            type: 'scatter',
            xAxisIndex: 1,
            yAxisIndex: 1,
            data: iceAcc,
            symbolSize: 6,
            itemStyle: { color: '#9467bd' },
            z: 5,
            animation: false,
        },
        lineSeries('pressure', 2, pressure, '#1f77b4', 2),
        lineSeries('Shortwave ↓', 3, shortwave, '#1f77b4', 2),
        lineSeries('Longwave ↓', 3, longwave, '#ff7f0e', 2),
        scatterSeries('wind direction', 4, windDir),
        scatterSeries('wind speed', 5, windSpeed),
        lineSeries('snow depth', 6, snowDepth, '#000000', 2),
    ],
}

const chart = echarts.init(document.getElementById('main'), null, { renderer: 'canvas' })
chart.setOption(option)
</script>
</body>
</html>
